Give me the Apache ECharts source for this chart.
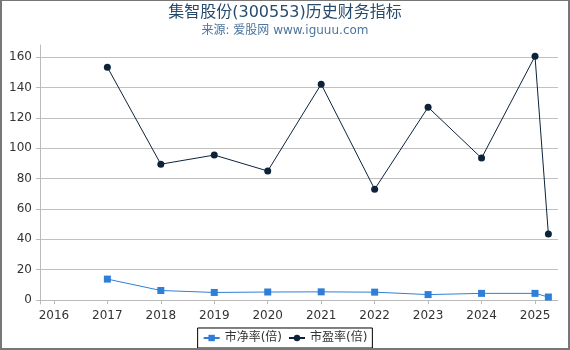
<!DOCTYPE html>
<html>
<head>
<meta charset="utf-8">
<script src="https://cdn.jsdelivr.net/npm/echarts@6/dist/echarts.min.js"></script>
<style>
  html, body { margin: 0; padding: 0; background: #fff; }
  #main { position: absolute; left: 0; top: 0; width: 570px; height: 350px; }
  #frame { position: absolute; left: 0; top: 0; width: 566px; height: 347px;
           border-top: 1px solid #777; border-left: 2px solid #777;
           border-right: 2px solid #777; border-bottom: 2px solid #777; pointer-events: none; }
</style>
</head>
<body>
<div id="main"></div>
<div id="frame"></div>
<script>
// 年份（2025.25 为最新一期）
const years = [2017, 2018, 2019, 2020, 2021, 2022, 2023, 2024, 2025, 2025.25]
// 市净率(倍)
const pbValues = [13.8, 6.3, 5.0, 5.3, 5.4, 5.2, 3.6, 4.4, 4.4, 2.0]
// 市盈率(倍)
const peValues = [153.4, 89.5, 95.5, 85.0, 142.2, 73.0, 127.0, 93.5, 160.6, 43.5]

const font = '"DejaVu Sans", "Noto Sans CJK SC", sans-serif'
const zip = (xs, ys) => xs.map((x, i) => [x, ys[i]])

const myChart = echarts.init(document.getElementById('main'))
myChart.setOption({
  animation: false,
  textStyle: { fontFamily: font },
  title: {
    text: '集智股份(300553)历史财务指标',
    subtext: '来源: 爱股网 www.iguuu.com',
    left: 'center',
    top: 0,
    itemGap: 4,
    textStyle: { fontSize: 16, fontWeight: 'normal', color: '#274b6d', fontFamily: font },
    subtextStyle: { fontSize: 12, color: '#4d759e', fontFamily: font }
  },
  legend: {
    bottom: 2,
    left: 'center',
    borderColor: '#000',
    borderWidth: 1,
    borderRadius: 0,
    padding: [4, 5],
    itemGap: 6,
    itemWidth: 16,
    itemHeight: 8,
    textStyle: { fontSize: 12, color: '#333', fontFamily: font },
    data: ['市净率(倍)', '市盈率(倍)']
  },
  grid: { left: 40, right: 12, top: 45, bottom: 46 },
  xAxis: {
    type: 'value',
    min: 2015.74,
    max: 2025.43,
    splitNumber: 10,
    splitLine: { show: false },
    axisLine: { lineStyle: { color: '#bbb' } },
    axisTick: { lineStyle: { color: '#bbb' }, length: 4 },
    axisLabel: {
      color: '#333', fontSize: 12, margin: 6,
      showMinLabel: false, showMaxLabel: false,
      formatter: v => Number.isInteger(v) ? String(v) : ''
    }
  },
  yAxis: {
    type: 'value',
    min: -2.6,
    max: 168,
    splitNumber: 8,
    axisLine: { show: true, lineStyle: { color: '#bbb' } },
    axisTick: { show: true, length: 4, lineStyle: { color: '#bbb' } },
    splitLine: { show: true, showMinLine: false, showMaxLine: false, lineStyle: { color: '#c0c0c0' } },
    axisLabel: {
      color: '#333', fontSize: 12, margin: 8,
      showMinLabel: false, showMaxLabel: false,
      formatter: v => Number.isInteger(v) ? String(v) : ''
    }
  },
  series: [
    {
      name: '市净率(倍)',
      type: 'line',
      data: zip(years, pbValues),
      symbol: 'rect',
      symbolSize: 7,
      color: '#2f7ed8',
      lineStyle: { width: 1, color: '#2f7ed8' },
      itemStyle: { color: '#2f7ed8' }
    },
    {
      name: '市盈率(倍)',
      type: 'line',
      data: zip(years, peValues),
      symbol: 'circle',
      symbolSize: 7,
      color: '#0d233a',
      lineStyle: { width: 1, color: '#0d233a' },
      itemStyle: { color: '#0d233a' }
    }
  ]
})
</script>
</body>
</html>
